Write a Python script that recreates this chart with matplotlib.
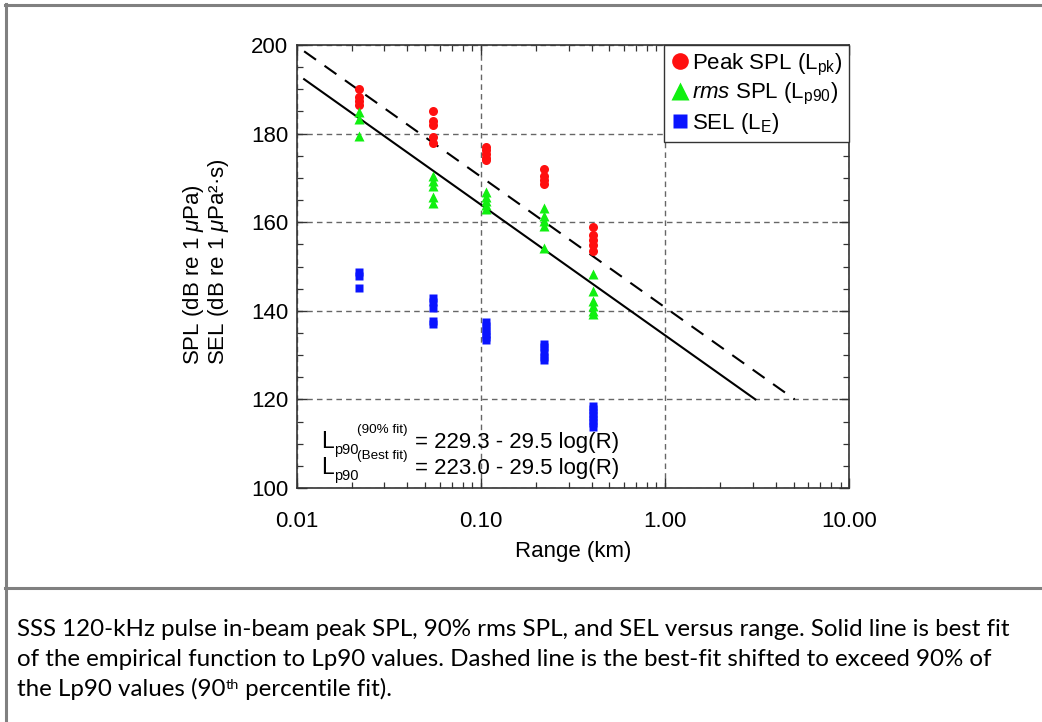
import numpy as np
import matplotlib
matplotlib.use("Agg")
import matplotlib.pyplot as plt
from matplotlib import font_manager
from matplotlib.ticker import FixedLocator, MultipleLocator, LogLocator, NullFormatter, FuncFormatter
from matplotlib.lines import Line2D

plt.rcParams["font.family"] = ["Liberation Sans", "DejaVu Sans"]
plt.rcParams["mathtext.fontset"] = "custom"
plt.rcParams["mathtext.rm"] = "Liberation Sans"
plt.rcParams["mathtext.it"] = "Liberation Sans:italic"
plt.rcParams["mathtext.bf"] = "Liberation Sans:bold"

# ---- data -------------------------------------------------------------
range_km = [0.0219, 0.0551, 0.1065, 0.220, 0.408]

peak_spl = [
    [190.0, 188.2, 187.3, 186.5],
    [185.0, 182.8, 182.0, 179.3, 177.8],
    [176.9, 176.2, 175.4, 174.6, 174.1],
    [172.0, 170.4, 169.6, 168.7],
    [159.0, 157.2, 156.0, 154.9, 153.4],
]
rms_spl = [
    [184.8, 183.3, 179.5],
    [170.4, 169.3, 168.1, 165.8, 164.4],
    [166.9, 165.8, 164.8, 163.8, 163.0],
    [163.3, 161.3, 160.3, 159.1, 154.2],
    [148.2, 144.4, 142.2, 141.0, 140.0, 139.2],
]
sel = [
    [148.8, 147.8, 145.1],
    [143.0, 142.0, 140.6, 137.6, 137.0],
    [137.5, 136.6, 135.7, 134.8, 134.0, 133.3],
    [132.6, 131.8, 130.8, 129.6, 129.0],
    [118.6, 117.8, 117.0, 116.2, 115.4, 114.6, 113.8],
]

# Lp90 = a - b*log10(R[m])
fit_best = (223.0, 29.5)
fit_90 = (229.3, 29.5)
fit_start_km = 0.011
fit_floor_db = 120.0

x_ticks = [0.01, 0.1, 1.0, 10.0]
y_ticks = [100, 120, 140, 160, 180, 200]

# ---- figure -----------------------------------------------------------
W, H = 1042, 722
fig = plt.figure(figsize=(W / 100, H / 100), dpi=100)


def fx(x):
    return x / W


def fy(y):
    return 1 - y / H


ax = fig.add_axes([fx(296.5), fy(488), (849 - 296.5) / W, (488 - 45) / H])


def flat(groups):
    xs, ys = [], []
    for r, vals in zip(range_km, groups):
        xs += [r] * len(vals)
        ys += list(vals)
    return xs, ys


RED, GREEN, BLUE = "#ff1010", "#10f010", "#0a14ff"

xp, yp = flat(peak_spl)
xr, yr = flat(rms_spl)
xs_, ys_ = flat(sel)
ax.plot(xp, yp, "o", color=RED, ms=6.5, mec="none", zorder=4)
ax.plot(xr, yr, "^", color=GREEN, ms=7.5, mec="none", zorder=4)
ax.plot(xs_, ys_, "s", color=BLUE, ms=5.5, mec="none", zorder=4)


def fit_line(coef):
    a, b = coef
    r_end = 10 ** ((a - fit_floor_db) / b) / 1000.0
    r = np.logspace(np.log10(fit_start_km), np.log10(r_end), 200)
    return r, a - b * np.log10(r * 1000.0)


rb, lb = fit_line(fit_best)
r9, l9 = fit_line(fit_90)
ax.plot(rb, lb, "-", color="black", lw=1.5, zorder=3)
ax.plot(r9, l9, color="black", lw=1.5, dashes=(7, 5), zorder=3)

ax.set_xscale("log")
ax.set_xlim(0.01, 10)
ax.set_ylim(100, 200)
ax.xaxis.set_major_locator(FixedLocator(x_ticks))
ax.xaxis.set_major_formatter(FuncFormatter(lambda v, p: f"{v:.2f}"))
ax.xaxis.set_minor_locator(LogLocator(base=10, subs=np.arange(2, 10)))
ax.xaxis.set_minor_formatter(NullFormatter())
ax.yaxis.set_major_locator(FixedLocator(y_ticks))
ax.yaxis.set_minor_locator(MultipleLocator(5))

ax.tick_params(which="both", direction="in", top=True, right=True,
               colors="#333333", labelcolor="black", labelsize=16)
ax.tick_params(which="major", length=7, width=1.0)
ax.tick_params(which="minor", length=4, width=0.9)
ax.tick_params(axis="x", pad=16.5)
ax.tick_params(axis="y", pad=6)
for s in ax.spines.values():
    s.set_color("#333333")
    s.set_linewidth(1.2)

ax.grid(True, which="major", color="#666666", ls=(0, (4, 3)), lw=1.0)

handles = [
    Line2D([], [], marker="o", ls="none", color=RED, ms=12, mec="none"),
    Line2D([], [], marker="^", ls="none", color=GREEN, ms=13, mec="none"),
    Line2D([], [], marker="s", ls="none", color=BLUE, ms=10, mec="none"),
]
labels = [r"Peak SPL (L$_{\mathrm{pk}}$)",
          r"$\mathit{rms}$ SPL (L$_{\mathrm{p90}}$)",
          r"SEL (L$_{\mathrm{E}}$)"]
leg = ax.legend(handles, labels, loc="upper right", borderaxespad=0,
                fontsize=16, frameon=True, fancybox=False, edgecolor="#333333",
                framealpha=1, handlelength=0.8, handletextpad=0.15,
                borderpad=0.3, labelspacing=0.15)
leg.get_frame().set_linewidth(1.0)
leg.set_zorder(5)

# fit equations
for yb, sup, rhs in [(448, "(90% fit)", "= 229.3 - 29.5 log(R)"),
                     (474, "(Best fit)", "= 223.0 - 29.5 log(R)")]:
    fig.text(fx(321), fy(yb), "L", fontsize=16.5, va="baseline", ha="left")
    fig.text(fx(334), fy(yb + 6), "p90", fontsize=10.5, va="baseline", ha="left")
    fig.text(fx(357), fy(yb - 15), sup, fontsize=9.7, va="baseline", ha="left")
    fig.text(fx(415), fy(yb), rhs, fontsize=16, va="baseline", ha="left")

fig.text(fx(206), fy(365), "SPL (dB re 1 $\\mu$Pa)\nSEL (dB re 1 $\\mu$Pa\u00b2\u00b7s)",
         rotation=90, ha="center", va="bottom", multialignment="left",
         fontsize=16, linespacing=1.05)
fig.text(fx(573), fy(552), "Range (km)", ha="center", va="center", fontsize=16)

# surrounding table frame
gray = "#808080"
fig.add_artist(Line2D([fx(6), fx(6)], [fy(4), 0], color=gray, lw=2.2))
fig.add_artist(Line2D([fx(5), 1], [fy(5), fy(5)], color=gray, lw=2.2))
fig.add_artist(Line2D([fx(5), 1], [fy(588), fy(588)], color=gray, lw=2.2))

# caption, sized so the first line spans the text column
available = {f.name for f in font_manager.fontManager.ttflist}
cap_font = "Liberation Sans Narrow" if "Liberation Sans Narrow" in available else "Lato"
caption = [
    "SSS 120-kHz pulse in-beam peak SPL, 90% rms SPL, and SEL versus range. Solid line is best fit",
    "of the empirical function to Lp90 values. Dashed line is the best-fit shifted to exceed 90% of",
]
cap_x0, cap_x1 = 17, 1013
probe = fig.text(0, 0, caption[0], family=cap_font, fontsize=14)
fig.canvas.draw()
rend = fig.canvas.get_renderer()
cap_size = 14 * (cap_x1 - cap_x0) / probe.get_window_extent(rend).width
probe.remove()

for i, line in enumerate(caption):
    fig.text(fx(cap_x0), fy(636 + 30 * i), line, family=cap_font,
             fontsize=cap_size, va="baseline")
t1 = fig.text(fx(cap_x0), fy(696), "the Lp90 values (90",
              family=cap_font, fontsize=cap_size, va="baseline")
t2 = fig.text(0, 0, "th", family=cap_font, fontsize=cap_size * 0.6, va="top")
t3 = fig.text(0, 0, " percentile fit).", family=cap_font, fontsize=cap_size,
              va="baseline")

fig.canvas.draw()
bb1 = t1.get_window_extent(rend)
t2.set_position((bb1.x1 / W, bb1.y1 / H - 0.002))
fig.canvas.draw()
bb2 = t2.get_window_extent(rend)
t3.set_position((bb2.x1 / W, fy(696)))

fig.savefig("out.png", dpi=100)
